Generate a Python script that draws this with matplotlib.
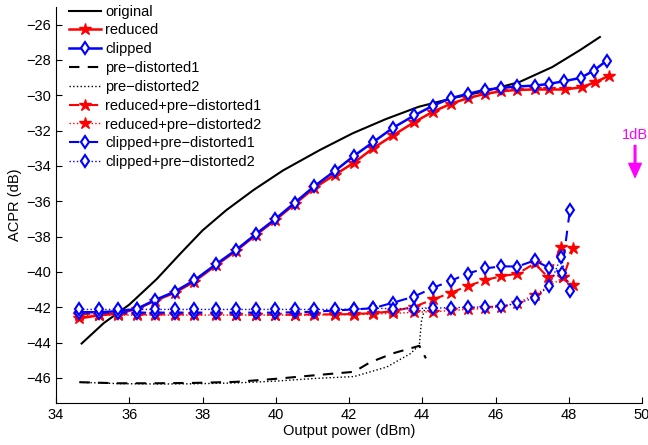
import matplotlib
matplotlib.use("Agg")
import matplotlib.pyplot as plt

plt.rcParams['font.family'] = ['Liberation Sans', 'DejaVu Sans']
plt.rcParams['font.size'] = 10.5

# output power grid of the measurements (dBm)
x_pts = [34.64, 35.17, 35.70, 36.20, 36.71, 37.24, 37.77, 38.37, 38.92, 39.46,
         39.99, 40.52, 41.05, 41.61, 42.14, 42.66, 43.20, 43.78, 44.30, 44.78,
         45.24, 45.71, 46.16, 46.60, 47.07]

orig_x = [34.70, 35.30, 36.00, 36.75, 37.40, 38.00, 38.65, 39.40, 40.20, 41.20,
          42.10, 43.00, 43.90, 44.85, 45.75, 46.65, 47.55, 48.30, 48.85]
orig_y = [-44.05, -42.90, -41.85, -40.40, -38.95, -37.65, -36.50, -35.35, -34.25, -33.10,
          -32.15, -31.35, -30.65, -30.15, -29.75, -29.25, -28.40, -27.45, -26.70]

red_x = x_pts + [47.47, 47.90, 48.35, 48.72, 49.11]
reduced = [-42.63, -42.45, -42.35, -42.10, -41.62, -41.18, -40.55, -39.62, -38.80, -37.90,
           -37.06, -36.15, -35.25, -34.50, -33.81, -32.99, -32.27, -31.52, -30.92, -30.48,
           -30.16, -29.92, -29.77, -29.69, -29.67, -29.67, -29.67, -29.54, -29.26, -28.88]

clip_x = x_pts + [47.47, 47.87, 48.33, 48.68, 49.04]
clipped = [-42.28, -42.28, -42.22, -42.10, -41.58, -41.12, -40.48, -39.56, -38.75, -37.85,
           -37.00, -36.08, -35.15, -34.29, -33.42, -32.65, -31.84, -31.14, -30.58, -30.16,
           -29.92, -29.69, -29.58, -29.50, -29.45, -29.35, -29.20, -29.01, -28.60, -28.03]

pd1_x = [34.64, 35.70, 36.71, 37.77, 38.92, 39.99, 41.05, 42.14, 42.57, 43.21, 43.92, 44.10]
pd1_y = [-46.24, -46.30, -46.30, -46.28, -46.22, -46.05, -45.85, -45.65, -45.12, -44.60, -44.18, -44.89]

pd2_x = [34.64, 35.70, 36.71, 37.77, 38.92, 39.99, 41.05, 42.14, 43.03, 43.67, 43.92, 43.98, 44.08]
pd2_y = [-46.24, -46.32, -46.34, -46.33, -46.28, -46.18, -46.03, -45.92, -45.38, -44.63, -44.15, -42.75, -42.00]

red_pd1_x = x_pts + [47.44, 47.78, 48.12, 47.85]
red_pd1 = [-42.38, -42.38, -42.38, -42.40, -42.40, -42.40, -42.40, -42.40, -42.42, -42.42,
           -42.42, -42.42, -42.40, -42.40, -42.38, -42.33, -42.22, -41.97, -41.55, -41.18,
           -40.80, -40.46, -40.24, -40.10, -39.52, -40.31, -38.58, -38.67, -40.31]

red_pd2_x = x_pts + [47.85, 48.12]
red_pd2 = [-42.45, -42.45, -42.44, -42.44, -42.44, -42.44, -42.44, -42.44, -42.44, -42.44,
           -42.44, -42.44, -42.44, -42.42, -42.42, -42.38, -42.35, -42.28, -42.25, -42.18,
           -42.12, -42.06, -41.97, -41.75, -41.30, -40.31, -40.75]

clip_pd1_x = x_pts + [47.47, 47.81, 48.03]
clip_pd1 = [-42.30, -42.30, -42.30, -42.30, -42.30, -42.30, -42.30, -42.30, -42.30, -42.30,
            -42.30, -42.28, -42.25, -42.18, -42.12, -42.05, -41.74, -41.39, -40.89, -40.50,
            -40.09, -39.80, -39.68, -39.69, -39.35, -39.77, -40.03, -36.51]

clip_pd2_x = x_pts + [47.47, 47.79, 48.03]
clip_pd2 = [-42.12, -42.12, -42.12, -42.12, -42.12, -42.12, -42.12, -42.12, -42.12, -42.12,
            -42.12, -42.12, -42.12, -42.12, -42.10, -42.05, -42.08, -42.07, -42.05, -42.02,
            -42.00, -41.98, -41.92, -41.78, -41.46, -40.78, -39.15, -41.07]

fig = plt.figure(figsize=(6.48, 4.45), dpi=100)
ax = fig.add_axes([56 / 648, 1 - 402.7 / 445, 586 / 648, 395.7 / 445])

star = dict(marker='*', ms=9)
diam = dict(marker='d', ms=6, mfc='white', mew=1.5)

ax.plot(orig_x, orig_y, 'k-', lw=1.5, label='original')
ax.plot(red_x, reduced, 'r-', lw=1.8, label='reduced', **star)
ax.plot(clip_x, clipped, 'b-', lw=1.8, label='clipped', **diam)
ax.plot(pd1_x, pd1_y, 'k--', lw=1.5, dashes=(5, 4), label='pre\u2212distorted1')
ax.plot(pd2_x, pd2_y, 'k:', lw=1.0, label='pre\u2212distorted2')
ax.plot(red_pd1_x, red_pd1, 'r--', lw=1.5, dashes=(5, 4),
        label='reduced+pre\u2212distorted1', **star)
ax.plot(red_pd2_x, red_pd2, 'r:', lw=1.0, label='reduced+pre\u2212distorted2', **star)
ax.plot(clip_pd1_x, clip_pd1, 'b--', lw=1.5, dashes=(5, 4),
        label='clipped+pre\u2212distorted1', **diam)
ax.plot(clip_pd2_x, clip_pd2, 'b:', lw=1.0, label='clipped+pre\u2212distorted2', **diam)

# 1 dB compression marker
ax.annotate('', xy=(49.81, -34.64), xytext=(49.81, -32.84),
            arrowprops=dict(color='magenta', width=1.2, headwidth=9, headlength=10, shrink=0))
ax.text(49.81, -32.27, '1dB', color='magenta', ha='center', va='center', clip_on=False)

ax.set_xlim(34, 50)
ax.set_ylim(-47.4, -25.0)
ax.set_xticks(range(34, 51, 2))
ax.set_yticks(range(-46, -25, 2))
ax.tick_params(direction='in', length=4, width=0.8)
ax.spines['top'].set_visible(False)
ax.spines['right'].set_visible(False)

ax.set_xlabel('Output power (dBm)', labelpad=2)
ax.set_ylabel('ACPR (dB)', labelpad=3)

ax.legend(loc='upper left', bbox_to_anchor=(0.022, 1.006), frameon=False, borderpad=0,
          borderaxespad=0, handlelength=2.2, handletextpad=0.3, labelspacing=0.33)

fig.savefig('out.png', dpi=100)
